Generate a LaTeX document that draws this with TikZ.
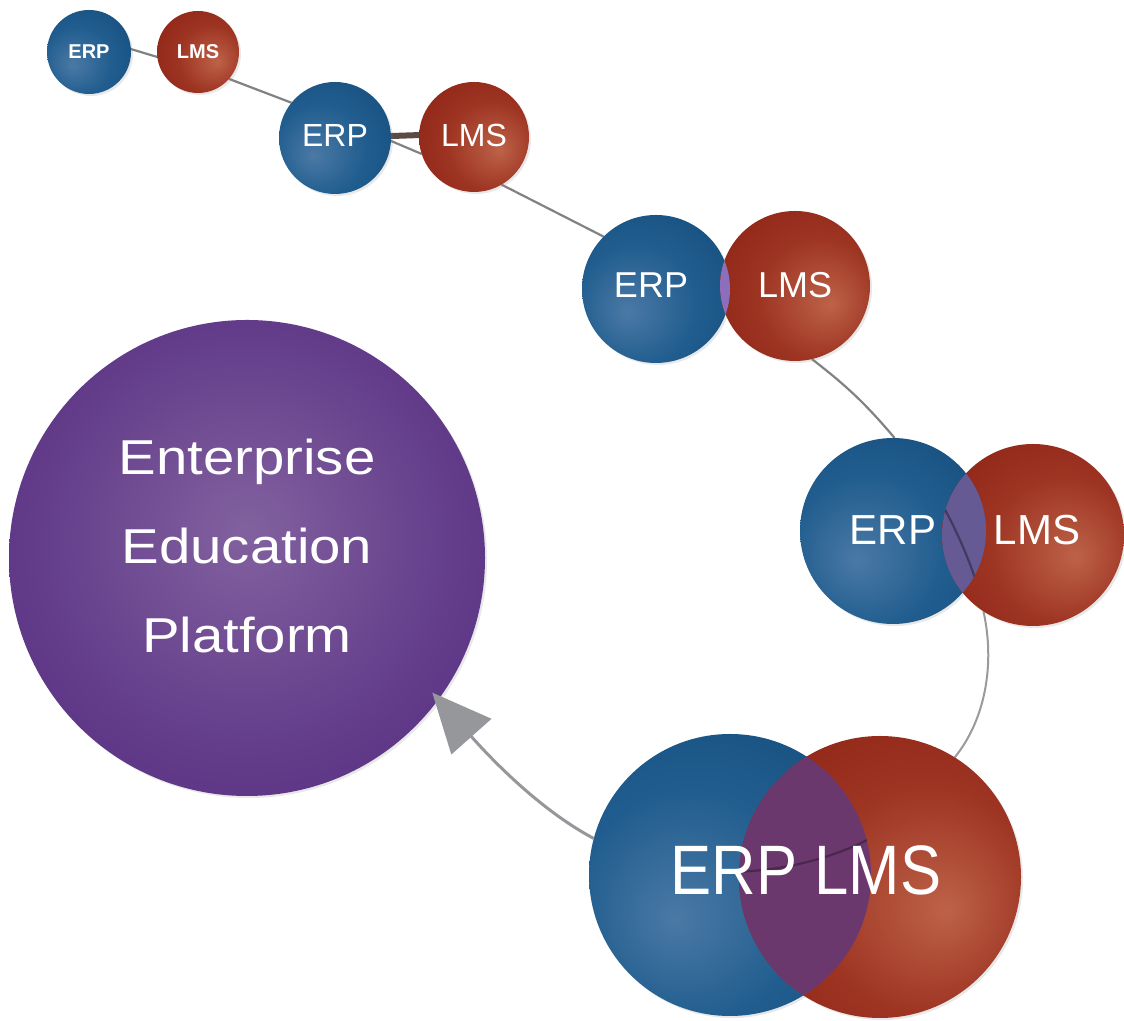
\documentclass[tikz,border=0pt]{standalone}
\usepackage{fontspec}
\setmainfont{Liberation Sans}
\newfontfamily\widefont[FakeStretch=1.15]{Liberation Sans}
\newfontfamily\narrowfont[FakeStretch=0.88]{Liberation Sans}
\usetikzlibrary{calc,arrows.meta,shadows}
\definecolor{erpA}{HTML}{4B79A5}
\definecolor{erpB}{HTML}{215E8F}
\definecolor{erpC}{HTML}{124A7A}
\definecolor{erpD}{HTML}{0A3560}
\definecolor{lmsA}{HTML}{BD6248}
\definecolor{lmsB}{HTML}{9E3523}
\definecolor{lmsC}{HTML}{881D10}
\definecolor{lmsD}{HTML}{6A1207}
\definecolor{eepA}{HTML}{82619F}
\definecolor{eepB}{HTML}{633D8A}
\definecolor{eepC}{HTML}{4E267B}
\definecolor{eepD}{HTML}{3D186A}
\definecolor{lensC}{HTML}{8C6FBC}
\definecolor{lensD}{HTML}{665A94}
\definecolor{lensE}{HTML}{6B386E}
\definecolor{connGray}{HTML}{828282}
\definecolor{lightGray}{HTML}{9A9A9A}
\definecolor{arrowGray}{HTML}{96979A}
\definecolor{barBrown}{HTML}{5C4A45}
\pgfdeclareradialshading{erpsh}{\pgfpoint{-10bp}{-8bp}}{color(0bp)=(erpA); color(20bp)=(erpB); color(42bp)=(erpC); color(64bp)=(erpD)}
\pgfdeclareradialshading{lmssh}{\pgfpoint{12bp}{-6bp}}{color(0bp)=(lmsA); color(20bp)=(lmsB); color(44bp)=(lmsC); color(64bp)=(lmsD)}
\pgfdeclareradialshading{eepsh}{\pgfpoint{0bp}{3bp}}{color(0bp)=(eepA); color(22bp)=(eepB); color(42bp)=(eepC); color(55bp)=(eepD)}
\pgfdeclarelayer{background}
\pgfdeclarelayer{paper}
\pgfdeclarelayer{front}
\pgfsetlayers{paper,background,main,front}
\tikzset{
  ball/.style={circle, inner sep=0pt, outer sep=0pt, minimum size=#1, shade,
    drop shadow={shadow xshift=1pt, shadow yshift=-1pt, opacity=0.18}},
  erpball/.style={ball=#1, shading=erpsh},
  lmsball/.style={ball=#1, shading=lmssh},
  eepball/.style={ball=#1, shading=eepsh},
  lbl/.style={text=white, inner sep=0pt},
  conn/.style={draw=connGray, line width=1.1pt},
  softconn/.style={draw=lightGray, line width=1pt},
  barconn/.style={draw=barBrown, line width=3pt},
  arrowconn/.style={draw=arrowGray, line width=1.5pt,
    -{Triangle[length=29.5pt,width=26.5pt,fill=arrowGray]}},
  lensline/.style={line width=1.1pt, draw=#1},
}
\begin{document}
\begin{tikzpicture}[x=0.5pt,y=0.5pt]
\useasboundingbox (0,0) rectangle (1124,1021);
\begin{pgfonlayer}{paper}
\fill[white] (0,0) rectangle (1124,1021);
\end{pgfonlayer}
% circles
\node[erpball=42pt] (e1) at (89,969) {};
\node[lmsball=41pt] (l1) at (198,969) {};
\node[erpball=56pt] (e2) at (335,883) {};
\node[lmsball=55pt] (l2) at (474,884) {};
\node[erpball=74pt] (e3) at (656,732) {};
\node[lmsball=75pt] (l3) at (795,735) {};
\node[erpball=93pt] (e4) at (893,490) {};
\node[lmsball=91pt] (l4) at (1033,486) {};
\node[eepball=238pt] (eep) at (247,463) {};
\node[erpball=141pt] (e5) at (730,146) {};
\node[lmsball=141pt] (l5) at (880,144) {};
% connectors under the circles
\begin{pgfonlayer}{background}
\draw[conn] (e1.4) -- (l1.187);
\draw[conn] (l1.-41) -- (e2.141);
\draw[barconn] (e2.2) -- (l2.178);
\draw[conn] (e2.-3) -- (l2.198);
\draw[conn] (l2.-60) -- (e3.135);
\draw[conn] (l3.-77) to[bend left=6] (e4.89);
\draw[softconn] (l4.-123) .. controls +(12,-54) and +(30,37) .. (l5.58);
\end{pgfonlayer}
\begin{pgfonlayer}{front}
% overlaps
\begin{scope}
  \clip (e3.center) circle[radius=74];
  \clip (l3.center) circle[radius=75];
  \fill[lensC] (600,600) rectangle (900,900);
\end{scope}
\begin{scope}
  \clip (e4.center) circle[radius=93];
  \clip (l4.center) circle[radius=91];
  \fill[lensD] (850,350) rectangle (1124,650);
  \draw[lensline=lensD!65!black] (e4.89) .. controls +(35,-32) and +(-8,51) .. (l4.-123);
\end{scope}
\begin{scope}
  \clip (e5.center) circle[radius=141];
  \clip (l5.center) circle[radius=141];
  \fill[lensE] (580,0) rectangle (1030,300);
  \draw[lensline=lensE!70!black] (l5.58) .. controls +(-54.7,-112.6) and +(106.2,-66.5) .. (e5.165);
\end{scope}
% arrow to the platform
\coordinate (tipc) at ($(eep.center)!0.962!(eep.-36)$);
\draw[arrowconn] (e5.165) .. controls +(-49,26) and +(66.4,-74.7) .. (tipc);
% labels
\node[lbl, font=\bfseries\fontsize{10}{12}\selectfont] (te1) at (e1.center) {ERP};
\node[lbl, font=\bfseries\fontsize{10}{12}\selectfont] (tl1) at (l1.center) {LMS};
\node[lbl, font=\fontsize{16}{19}\selectfont] (te2) at (335,885) {ERP};
\node[lbl, font=\fontsize{16}{19}\selectfont] (tl2) at (474,885) {LMS};
\node[lbl, font=\fontsize{18}{22}\selectfont] (te3) at (651,736) {ERP};
\node[lbl, font=\fontsize{18}{22}\selectfont] (tl3) at (795,736) {LMS};
\node[lbl, font=\fontsize{21}{25}\selectfont] (te4) at (893,491) {ERP};
\node[lbl, font=\fontsize{21}{25}\selectfont] (tl4) at (1037,491) {LMS};
\node[lbl, font=\narrowfont\fontsize{35}{42}\selectfont] (t5) at (806,151) {ERP LMS};
\node[lbl, anchor=base, font=\widefont\fontsize{24.5}{29}\selectfont] (tp1) at (247,546) {Enterprise};
\node[lbl, anchor=base, font=\widefont\fontsize{24.5}{29}\selectfont] (tp2) at (247,457) {Education};
\node[lbl, anchor=base, font=\widefont\fontsize{24.5}{29}\selectfont] (tp3) at (247,368) {Platform};
\end{pgfonlayer}
\end{tikzpicture}
\end{document}
